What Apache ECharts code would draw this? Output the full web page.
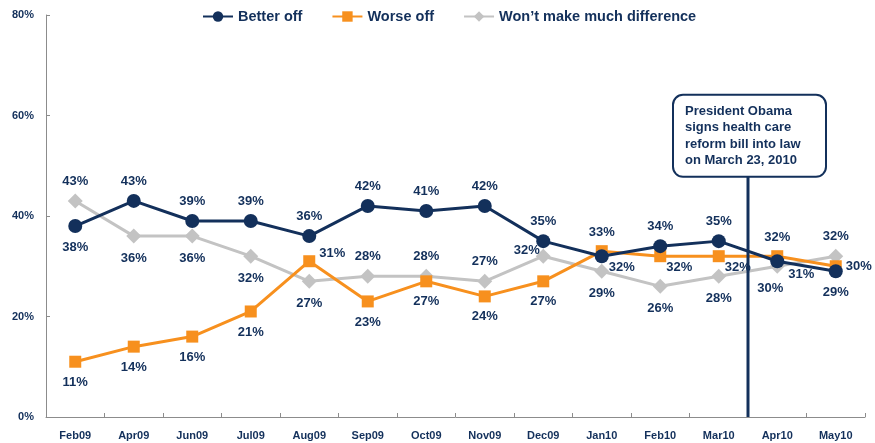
<!DOCTYPE html>
<html><head><meta charset="utf-8">
<script src="https://cdn.jsdelivr.net/npm/echarts@6/dist/echarts.min.js"></script>
<style>html,body{margin:0;padding:0;background:#fff}#c{width:875px;height:443px}</style>
</head><body><div id="c"></div>
<script>
var categories = ['Feb09','Apr09','Jun09','Jul09','Aug09','Sep09','Oct09','Nov09','Dec09','Jan10','Feb10','Mar10','Apr10','May10'];
var betterOff = [38,43,39,39,36,42,41,42,35,32,34,35,31,29];
var worseOff  = [11,14,16,21,31,23,27,24,27,33,32,32,32,30];
var noDiff    = [43,36,36,32,27,28,28,27,32,29,26,28,30,32];
var yTicks = [0,20,40,60,80];
var annotationText = 'President Obama\nsigns health care\nreform bill into law\non March 23, 2010';

// label placement (style only)
var betterPos = ['b','t','t','t','t','t','t','t','t','rb','t','t','rb2','b'];
var worsePos  = ['b','b','b','b','ru','b','b','b','b','t','rb','rb','t','r'];
var noDiffPos = ['t','b','b','b','b','t','t','t','lu','b','b','b','bl','t'];

var NAVY = '#13305B', ORANGE = '#F7901E', GRAY = '#C3C3C3';
var FONT = '"Liberation Sans", Arial, sans-serif';

function lbl(code){
  var m = {
    t:{position:'top',distance:6},
    b:{position:'bottom',distance:8},
    r:{position:'right',distance:4},
    rb:{position:'right',distance:4,offset:[-4,11]},
    rb2:{position:'right',distance:4,offset:[0,13]},
    ru:{position:'right',distance:4,offset:[0,-8]},
    lu:{position:'left',distance:4,offset:[8,-6]},
    bl:{position:'bottom',distance:8,offset:[-7,0]}
  };
  return m[code];
}
function build(vals, pos){
  return vals.map(function(v,i){ return {value:v, label:lbl(pos[i])}; });
}
var labelStyle = {show:true, formatter:'{c}%', color:NAVY, fontWeight:'bold', fontSize:13, fontFamily:FONT};

var chart = echarts.init(document.getElementById('c'));
var option = {
  animation:false,
  textStyle:{fontFamily:FONT},
  legend:{
    top:4, left:197, itemGap:29, itemWidth:30, itemHeight:13,
    textStyle:{color:NAVY, fontWeight:'bold', fontSize:14.5, fontFamily:FONT},
    data:['Better off','Worse off','Won\u2019t make much difference']
  },
  grid:{left:46, right:10, top:15, bottom:26},
  xAxis:{
    type:'category', data:categories, boundaryGap:true,
    axisLine:{lineStyle:{color:'#8C8C8C', width:1}},
    axisTick:{show:true, inside:true, length:4, lineStyle:{color:'#8C8C8C'}},
    axisLabel:{color:NAVY, fontWeight:'bold', fontSize:11, fontFamily:FONT, margin:13}
  },
  yAxis:{
    type:'value', min:yTicks[0], max:yTicks[yTicks.length-1], interval:20,
    axisLine:{show:true, lineStyle:{color:'#8C8C8C', width:1}},
    axisTick:{show:true, inside:true, length:4, lineStyle:{color:'#8C8C8C'}},
    splitLine:{show:false},
    axisLabel:{color:NAVY, fontWeight:'bold', fontSize:11, fontFamily:FONT, margin:12, formatter:'{value}%'}
  },
  series:[
    {name:'Worse off', type:'line', data:build(worseOff, worsePos), z:3,
     symbol:'rect', symbolSize:12, itemStyle:{color:ORANGE}, lineStyle:{color:ORANGE,width:3}, label:labelStyle},
    {name:'Won\u2019t make much difference', type:'line', data:build(noDiff, noDiffPos), z:2,
     symbol:'diamond', symbolSize:15, itemStyle:{color:GRAY}, lineStyle:{color:GRAY,width:3}, label:labelStyle},
    {name:'Better off', type:'line', data:build(betterOff, betterPos), z:4,
     symbol:'circle', symbolSize:14, itemStyle:{color:NAVY}, lineStyle:{color:NAVY,width:3}, label:labelStyle}
  ]
};
chart.setOption(option);

// annotation line between Mar10 and Apr10 (March 23, 2010)
var pA = chart.convertToPixel({gridIndex:0}, ['Mar10', 0]);
var pB = chart.convertToPixel({gridIndex:0}, ['Apr10', 0]);
var x = (pA[0] + pB[0]) / 2;
var y0 = pA[1];
var yBoxBottom = chart.convertToPixel({gridIndex:0}, ['Mar10', 47.8])[1];
var boxH = 82, boxW = 153;
chart.setOption({
  graphic:[
    {type:'line', shape:{x1:x, y1:yBoxBottom, x2:x, y2:y0}, style:{stroke:NAVY, lineWidth:3}, z:10},
    {type:'rect', shape:{x:x-75, y:yBoxBottom-boxH, width:boxW, height:boxH, r:10},
     style:{fill:'#fff', stroke:NAVY, lineWidth:2}, z:11},
    {type:'text', left:x-63, top:yBoxBottom-boxH+8, z:12,
     style:{text:annotationText, fill:NAVY, font:'bold 13px '+FONT, lineHeight:16.5}}
  ]
});
</script>
</body></html>
